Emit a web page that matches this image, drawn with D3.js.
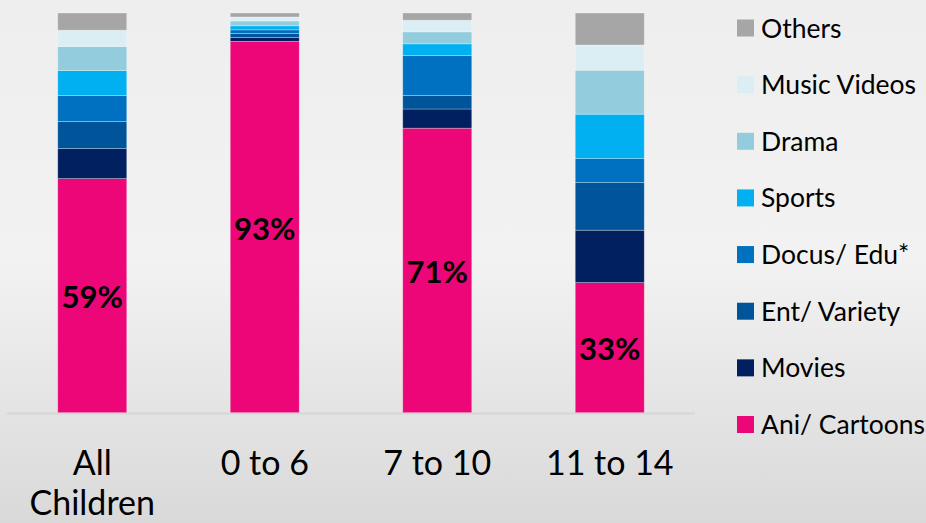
<!DOCTYPE html>
<html>
<head>
<meta charset="utf-8">
<script src="https://cdn.jsdelivr.net/npm/d3@7"></script>
<style>
  html, body { margin: 0; padding: 0; }
  body { width: 926px; height: 523px; overflow: hidden; }
  svg { display: block; font-family: Lato, "Open Sans", sans-serif; }
</style>
</head>
<body>
<div id="chart"></div>
<script>
// Share of viewing by genre, per age group (stacked to 100%)
const groups = ['All Children', '0 to 6', '7 to 10', '11 to 14'];
const genres = ['Ani/ Cartoons', 'Movies', 'Ent/ Variety', 'Docus/ Edu*', 'Sports', 'Drama', 'Music Videos', 'Others'];
const colors = ['#ec0677', '#002060', '#00559a', '#0070c0', '#00b0f0', '#93cddd', '#daeef3', '#a6a6a6'];

const aniCartoons = [58.6, 92.9, 71.2, 32.6];
const movies      = [7.5, 1.0, 4.8, 13.1];
const entVariety  = [6.8, 1.0, 3.4, 11.9];
const docusEdu    = [6.5, 0.9, 10.0, 6.0];
const sports      = [6.2, 1.0, 2.9, 11.1];
const drama       = [6.0, 1.2, 3.0, 11.0];
const musicVideos = [4.1, 1.0, 2.9, 6.3];
const others      = [4.3, 1.0, 1.8, 8.0];

const labelValues = ['59%', '93%', '71%', '33%'];

(function () {
    const width = 926, height = 523;
    const series = [aniCartoons, movies, entVariety, docusEdu, sports, drama, musicVideos, others];

    const rows = groups.map((g, i) => {
        const row = { group: g };
        genres.forEach((k, j) => { row[k] = series[j][i]; });
        return row;
    });

    const svg = d3.select('#chart').append('svg')
        .attr('width', width)
        .attr('height', height);

    // Slide-like background gradient
    const grad = svg.append('defs').append('linearGradient')
        .attr('id', 'bg').attr('x1', 0).attr('y1', 0).attr('x2', 0).attr('y2', 1);
    grad.append('stop').attr('offset', '0%').attr('stop-color', '#eeeeee');
    grad.append('stop').attr('offset', '50%').attr('stop-color', '#f2f2f2');
    grad.append('stop').attr('offset', '100%').attr('stop-color', '#d9d9d9');
    svg.append('rect').attr('width', width).attr('height', height).attr('fill', 'url(#bg)');

    const x = d3.scaleBand()
        .domain(groups)
        .range([6, 696])
        .paddingInner(0.6)
        .paddingOuter(0.3);

    const y = d3.scaleLinear().domain([0, 100]).range([413, 13]);

    const stack = d3.stack().keys(genres);
    const stacked = stack(rows);

    const layers = svg.append('g').selectAll('g')
        .data(stacked)
        .join('g')
        .attr('fill', (d, i) => colors[i]);

    layers.selectAll('rect')
        .data(d => d)
        .join('rect')
        .attr('x', d => x(d.data.group))
        .attr('y', d => y(d[1]))
        .attr('width', x.bandwidth())
        .attr('height', d => y(d[0]) - y(d[1]))
        .attr('stroke', 'rgba(255,255,255,0.35)')
        .attr('stroke-width', 0.8);

    // Baseline
    svg.append('line')
        .attr('x1', 7).attr('x2', 695)
        .attr('y1', 413.5).attr('y2', 413.5)
        .attr('stroke', '#d6d6d6')
        .attr('stroke-width', 2);

    // Percent labels in the middle of the cartoon segment
    svg.append('g').selectAll('text')
        .data(stacked[0])
        .join('text')
        .attr('x', d => x(d.data.group) + x.bandwidth() / 2)
        .attr('y', d => (y(d[0]) + y(d[1])) / 2 + 12.5)
        .attr('text-anchor', 'middle')
        .attr('font-size', 31)
        .attr('font-weight', 'bold')
        .attr('fill', '#000')
        .text((d, i) => labelValues[i]);

    // Category labels (wrap on space for the first one)
    const catLabels = [['All', 'Children'], ['0 to 6'], ['7 to 10'], ['11 to 14']];
    const cat = svg.append('g').selectAll('text')
        .data(groups)
        .join('text')
        .attr('x', d => x(d) + x.bandwidth() / 2)
        .attr('y', 475)
        .attr('text-anchor', 'middle')
        .attr('font-size', 34)
        .attr('fill', '#000');
    cat.each(function (d, i) {
        d3.select(this).selectAll('tspan')
            .data(catLabels[i])
            .join('tspan')
            .attr('x', x(d) + x.bandwidth() / 2)
            .attr('dy', (t, k) => k === 0 ? 0 : 40)
            .text(t => t);
    });

    // Legend, top to bottom in reverse stack order
    const legendOrder = genres.slice().reverse();
    const ly = d3.scalePoint().domain(legendOrder).range([28, 424.5]);
    const legend = svg.append('g').selectAll('g')
        .data(legendOrder)
        .join('g')
        .attr('transform', d => `translate(737,${ly(d)})`);
    legend.append('rect')
        .attr('x', 0).attr('y', -8.5)
        .attr('width', 17).attr('height', 17)
        .attr('fill', d => colors[genres.indexOf(d)]);
    legend.append('text')
        .attr('x', 24).attr('y', 9.5)
        .attr('font-size', 26.5)
        .attr('fill', '#000')
        .text(d => d);
})();
</script>
</body>
</html>
